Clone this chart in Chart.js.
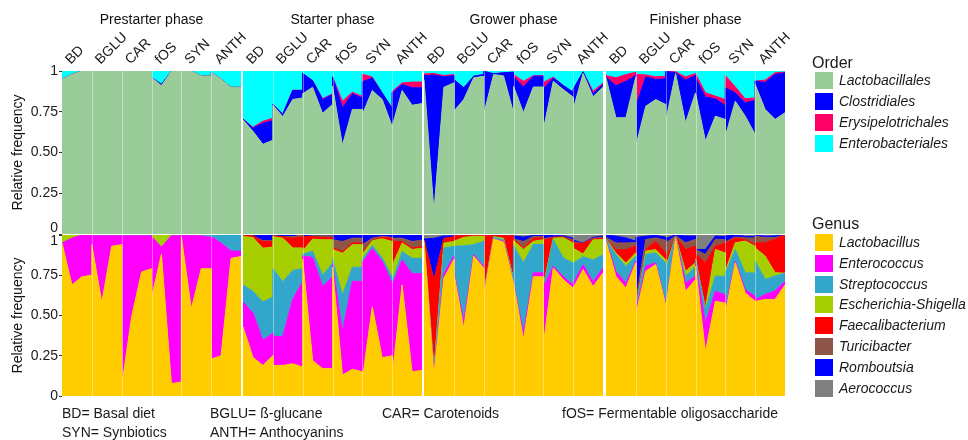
<!DOCTYPE html>
<html>
<head>
<meta charset="utf-8">
<script src="https://cdn.jsdelivr.net/npm/chart.js@4"></script>
<style>
body{margin:0;background:#fff;font-family:"Liberation Sans",Arial,sans-serif;color:#1a1a1a}
#wrap{position:relative;width:968px;height:440px;overflow:hidden}
.box{position:absolute;left:0;width:968px}
.note{position:absolute;font-size:14px;line-height:16px;white-space:nowrap}
.lg-title{position:absolute;left:812px;font-size:16px;line-height:18px}
.lg-item{position:absolute;left:815px;height:17px;line-height:17px;font-size:14px;font-style:italic;white-space:nowrap}
.lg-item span{display:inline-block;width:18px;height:17px;vertical-align:top;margin-right:6px}
</style>
</head>
<body>
<div id="wrap"></div>
<script>
// categories
const phases = ["Prestarter phase", "Starter phase", "Grower phase", "Finisher phase"];
const treatments = ["BD", "BGLU", "CAR", "fOS", "SYN", "ANTH"];
const perGroup = 4; // samples per treatment

const orderNames = ["Lactobacillales", "Clostridiales", "Erysipelotrichales", "Enterobacteriales"];
const orderColors = ["#99CC99", "#0000FF", "#FF0066", "#00FFFF"];
const genusNames = ["Lactobacillus", "Enterococcus", "Streptococcus", "Escherichia-Shigella",
  "Faecalibacterium", "Turicibacter", "Romboutsia", "Aerococcus"];
const genusColors = ["#FFCC00", "#FF00FF", "#33A6CC", "#A6CE00", "#FF0000", "#8C5548", "#0000FF", "#808080"];

// ---- Order (top row), 4 phases x 6 treatments x 4 samples ----
const lactobacillales = [
  0.95,0.98,1,1, 1,1,1,1, 1,1,1,1, 0.96,0.91,1,1, 1,1,0.97,0.97, 0.99,0.95,0.90,0.90,
  0.70,0.63,0.55,0.575, 0.79,0.72,0.825,0.835, 0.86,0.90,0.74,0.795, 0.907,0.545,0.764,0.764, 0.733,0.88,0.825,0.66, 0.66,0.88,0.79,0.80,
  0.948,0.14,0.90,0.927, 0.753,0.825,0.958,0.968, 0.733,0.978,0.97,0.744, 0.907,0.744,0.902,0.902, 0.64,0.937,0.886,0.84, 0.764,0.985,0.842,0.902,
  0.958,0.713,0.713,0.964, 0.54,0.784,0.825,0.795, 0.692,0.985,0.682,0.866, 0.866,0.57,0.723,0.703, 0.60,0.815,0.723,0.61, 0.917,0.764,0.703,0.744
];
const clostridiales = [
  0,0,0,0, 0,0,0,0, 0,0,0,0, 0,0.008,0,0, 0,0,0,0, 0,0,0,0,
  0.005,0.02,0.13,0.12, 0.005,0.015,0.055,0.045, 0.125,0.04,0.085,0.06, 0.057,0.23,0.096,0.07, 0.2,0.078,0.04,0.11, 0.205,0.037,0.107,0.097,
  0.024,0.835,0.064,0.045, 0.195,0.072,0.01,0.01, 0.265,0.005,0.019,0.249, 0.057,0.158,0.066,0.066, 0.25,0.02,0.025,0.03, 0.123,0.01,0.02,0.015,
  0.004,0.197,0.224,0.008, 0.245,0.18,0.123,0.157, 0.305,0.005,0.262,0.106, 0.092,0.271,0.106,0.085, 0.297,0.051,0.082,0.21, 0.021,0.166,0.276,0.245
];
const erysipelotrichales = [
  0,0,0,0, 0,0,0,0, 0,0,0,0, 0,0,0,0, 0,0,0,0, 0,0,0,0,
  0,0.005,0.012,0.015, 0,0,0.002,0.002, 0,0,0.005,0.005, 0,0.04,0.01,0.01, 0.047,0.005,0,0, 0.01,0.01,0.035,0.035,
  0.01,0.01,0.008,0.006, 0,0,0,0, 0,0,0,0, 0.014,0.035,0.003,0.003, 0.04,0.005,0,0, 0,0,0.014,0.01,
  0.01,0.048,0.041,0.02, 0.194,0.012,0.016,0.016, 0,0.005,0.02,0.012, 0.026,0.025,0.017,0.037, 0.075,0.037,0.024,0.015, 0,0.014,0.01,0.004
];
const enterobacteriales = [
  0.05,0.02,0,0, 0,0,0,0, 0,0,0,0, 0.04,0.082,0,0, 0,0,0.03,0.03, 0.01,0.05,0.10,0.10,
  0.295,0.345,0.308,0.29, 0.205,0.265,0.118,0.118, 0.015,0.06,0.17,0.14, 0.036,0.185,0.13,0.156, 0.02,0.037,0.135,0.23, 0.125,0.073,0.068,0.068,
  0.018,0.015,0.028,0.022, 0.052,0.103,0.032,0.022, 0.002,0.017,0.011,0.007, 0.022,0.063,0.029,0.029, 0.07,0.038,0.089,0.13, 0.113,0.005,0.124,0.073,
  0.028,0.042,0.022,0.008, 0.021,0.024,0.036,0.032, 0.003,0.005,0.036,0.016, 0.016,0.134,0.154,0.175, 0.028,0.097,0.171,0.165, 0.062,0.056,0.011,0.007
];

// ---- Genus (bottom row) ----
const lactobacillus = [
  0.95,0.69,0.74,0.75, 0.94,0.58,0.93,0.94, 0.06,0.49,0.77,0.79, 0.61,0.88,0.077,0.087, 0.99,0.54,0.79,0.79, 0.23,0.25,0.855,0.866,
  0.43,0.24,0.19,0.25, 0.19,0.19,0.20,0.18, 0.85,0.22,0.17,0.17, 0.80,0.13,0.166,0.15, 0.10,0.555,0.237,0.25, 0.12,0.69,0.15,0.16,
  0.96,0.13,0.733,0.847, 0.764,0.42,0.868,0.795, 0.62,0.975,0.955,0.70, 0.70,0.35,0.74,0.74, 0.318,0.795,0.723,0.67, 0.67,0.785,0.68,0.764,
  0.96,0.743,0.67,0.827, 0.505,0.775,0.816,0.567, 0.55,0.98,0.65,0.723, 0.806,0.276,0.588,0.577, 0.515,0.827,0.64,0.588, 0.588,0.60,0.60,0.69
];
const enterococcus = [
  0,0.29,0.26,0.25, 0.055,0.415,0.065,0.055, 0.935,0.505,0.225,0.205, 0.38,0.045,0.918,0.908, 0.01,0.455,0.205,0.195, 0.76,0.70,0.045,0.034,
  0.155,0.275,0.157,0.14, 0.18,0.18,0.40,0.53, 0.02,0.64,0.51,0.57, 0.02,0.27,0.548,0.56, 0.73,0.36,0.60,0.45, 0.57,0.155,0.61,0.60,
  0,0.01,0.03,0.02, 0.01,0.043,0.01,0.01, 0.005,0,0.005,0.005, 0.005,0.04,0.025,0.025, 0.36,0.01,0.02,0.02, 0.03,0.03,0.03,0.03,
  0.005,0.031,0.031,0.01, 0.02,0.031,0.01,0.01, 0.01,0.005,0.052,0.021, 0.01,0.177,0.062,0.052, 0.021,0.01,0.021,0.031, 0.01,0.031,0.052,0.021
];
const streptococcus = [
  0,0,0,0, 0,0,0,0, 0,0,0,0, 0,0,0,0, 0,0,0,0.01, 0.01,0.05,0.10,0.10,
  0.105,0.135,0.238,0.224, 0.42,0.34,0.18,0.08, 0.01,0.04,0.07,0.085, 0.03,0.227,0.086,0.09, 0.02,0.02,0.02,0.04, 0.02,0.052,0.095,0.095,
  0,0.02,0.156,0.062, 0.156,0.47,0.062,0.156, 0.01,0.01,0.01,0.02, 0.23,0.437,0.176,0.176, 0,0.166,0.115,0.135, 0.125,0.05,0.135,0.083,
  0.005,0.104,0.104,0.031, 0.02,0.073,0.062,0.25, 0.22,0.005,0.042,0.062, 0.031,0.083,0.094,0.114, 0.228,0.073,0.104,0.145, 0.239,0.093,0.093,0.052
];
const escherichia = [
  0.05,0.02,0,0, 0.005,0.005,0.005,0.005, 0.005,0.005,0.005,0.005, 0.005,0.075,0.005,0.005, 0,0.005,0.005,0.005, 0,0,0,0,
  0.30,0.335,0.333,0.311, 0.20,0.27,0.14,0.13, 0.02,0.075,0.22,0.145, 0.06,0.26,0.14,0.14, 0.03,0.03,0.12,0.22, 0.10,0.053,0.055,0.063,
  0,0.01,0.031,0.031, 0.031,0.052,0.052,0.031, 0.005,0.005,0.01,0.005, 0.03,0.083,0.02,0.03, 0.01,0.01,0.125,0.125, 0.093,0.017,0.125,0.094,
  0.005,0.01,0.021,0.021, 0,0.021,0.021,0.02, 0.02,0,0.031,0.021, 0.005,0.01,0.166,0.145, 0.01,0.042,0.197,0.166, 0.083,0.145,0.021,0
];
const faecalibacterium = [
  0,0,0,0, 0,0,0,0, 0,0,0,0, 0,0,0,0, 0,0,0,0, 0,0,0,0,
  0.005,0.01,0.042,0.035, 0.005,0.01,0.06,0.07, 0.09,0.015,0.015,0.015, 0.01,0.01,0.01,0.01, 0.01,0.005,0.01,0.02, 0.15,0.01,0.01,0.01,
  0.01,0.55,0.029,0.027, 0.035,0.01,0.004,0.004, 0.355,0.005,0.015,0.265, 0.01,0.01,0.02,0.01, 0.28,0.005,0.005,0.01, 0.03,0.066,0.005,0.01,
  0,0.021,0.083,0.042, 0,0.01,0.052,0.04, 0.05,0,0.135,0.104, 0.031,0.281,0.021,0.062, 0.177,0.031,0.01,0.01, 0.031,0.083,0.208,0.237
];
const turicibacter = [
  0,0,0,0, 0,0,0,0, 0,0,0,0, 0,0,0,0, 0,0,0,0, 0,0,0,0,
  0,0,0.005,0.005, 0,0,0.01,0.01, 0,0.005,0.01,0.01, 0.05,0.063,0.03,0.03, 0.05,0.01,0.005,0.005, 0.02,0.02,0.04,0.04,
  0,0,0,0, 0,0,0,0, 0,0,0,0, 0,0.04,0.01,0.01, 0.01,0,0,0.01, 0.01,0,0.005,0.005,
  0.01,0.042,0.042,0.021, 0.04,0.062,0.021,0.08, 0.1,0.005,0.042,0.042, 0.027,0.052,0.042,0.02, 0.005,0.005,0.01,0.042, 0.042,0.031,0.01,0
];
const romboutsia = [
  0,0,0,0, 0,0,0,0, 0,0,0,0, 0.005,0,0,0, 0,0,0,0, 0,0,0,0,
  0.005,0.005,0.035,0.03, 0.005,0.01,0.01,0.005, 0.01,0.005,0.005,0.005, 0.03,0.04,0.02,0.02, 0.06,0.02,0.008,0.015, 0.02,0.02,0.04,0.032,
  0.005,0.26,0.015,0.008, 0.004,0.005,0.004,0.004, 0.005,0.005,0.005,0.005, 0.02,0.027,0.006,0.006, 0.02,0.01,0.007,0.01, 0.01,0.002,0.005,0.008,
  0.015,0.042,0.031,0.01, 0.40,0.021,0.015,0.02, 0.03,0.005,0.042,0.021, 0,0.031,0.021,0.02, 0.04,0.01,0.01,0.01, 0.005,0.01,0.01,0
];
const aerococcus = [
  0,0,0,0, 0,0,0,0, 0,0,0,0, 0,0,0,0, 0,0,0,0, 0,0,0,0,
  0,0,0,0, 0,0,0,0, 0,0,0,0, 0,0,0,0, 0,0,0,0, 0,0,0,0,
  0.025,0.02,0.006,0.005, 0,0,0,0, 0,0,0,0, 0.005,0.013,0.003,0.003, 0.002,0.004,0.005,0.02, 0.032,0.05,0.015,0.006,
  0,0.007,0.018,0.038, 0.015,0.007,0.003,0.013, 0.02,0,0.006,0.006, 0.09,0.09,0.006,0.01, 0.004,0.002,0.008,0.008, 0.002,0.007,0.006,0
];

const orderData = [lactobacillales, clostridiales, erysipelotrichales, enterobacteriales];
const genusData = [lactobacillus, enterococcus, streptococcus, escherichia, faecalibacterium, turicibacter, romboutsia, aerococcus];

// layout
const panelLeft = [62, 243, 424, 606];
const panelWidth = 179;
const GAP = 0.001; // keeps treatment blocks apart so each one starts fresh

Chart.defaults.font.family = "'Liberation Sans', Arial, sans-serif";
Chart.defaults.color = "#1a1a1a";

const perPhase = treatments.length * perGroup;
function xOf(i) {
  const g = Math.floor(i / perGroup);
  return g * (perGroup - 1) + (i % perGroup) + g * GAP;
}
const xMax = xOf(perPhase - 1);

function fmt(v) { return v === 0 ? "0" : v === 1 ? "1" : v.toFixed(2); }

// faint separators between treatments
const groupLines = {
  id: "groupLines",
  afterDatasetsDraw(chart) {
    const { ctx, chartArea: a, scales: { x } } = chart;
    ctx.save();
    ctx.strokeStyle = "rgba(255,255,255,0.4)";
    ctx.lineWidth = 1;
    for (let g = 1; g < treatments.length; g++) {
      const px = Math.round(x.getPixelForValue(g * (perGroup - 1) + (g - 0.5) * GAP)) + 0.5;
      ctx.beginPath(); ctx.moveTo(px, a.top); ctx.lineTo(px, a.bottom); ctx.stroke();
    }
    ctx.restore();
  }
};

const wrap = document.getElementById("wrap");

function makeChart(p, isTop) {
  const series = isTop ? orderData : genusData;
  const names = isTop ? orderNames : genusNames;
  const colors = isTop ? orderColors : genusColors;
  const first = p === 0;

  const div = document.createElement("div");
  div.className = "box";
  div.style.top = (isTop ? 0 : 220) + "px";
  div.style.height = (isTop ? 250 : 190) + "px";
  const cv = document.createElement("canvas");
  div.appendChild(cv);
  wrap.appendChild(div);

  const datasets = series.map((arr, k) => ({
    label: names[k],
    data: arr.slice(p * perPhase, (p + 1) * perPhase).map((v, i) => ({ x: xOf(i), y: v })),
    backgroundColor: colors[k],
    borderColor: colors[k],
    borderWidth: 1,
    pointRadius: 0,
    tension: 0,
    fill: k === 0 ? "origin" : "-1"
  }));

  const xScale = {
    type: "linear", position: "top", min: 0, max: xMax, display: isTop,
    grid: { display: false }, border: { display: false },
    afterBuildTicks: s => { s.ticks = treatments.map((t, g) => ({ value: g * (perGroup - 1) + (perGroup - 1) / 2 + g * GAP })); },
    ticks: { autoSkip: false, minRotation: 45, maxRotation: 45, padding: -5, labelOffset: 3,
      font: { size: 14 }, color: "#1a1a1a", callback: (v, i) => treatments[i] }
  };
  if (isTop) xScale.afterFit = s => { s.height = 42.2; };

  const yScale = {
    stacked: true, min: 0, max: 1, display: first, position: "left",
    grid: { drawOnChartArea: false, drawTicks: true, tickLength: 3, color: "#333" },
    border: { display: false },
    title: { display: true, text: "Relative frequency", color: "#111",
      font: { size: 14 }, padding: { top: 10, bottom: 0 } },
    ticks: { stepSize: 0.25, autoSkip: false, padding: 1, color: "#1a1a1a",
      font: { size: 14, lineHeight: 0.9 },
      callback: v => {
        if (isTop && v === 0) return ["0", ""];
        if (!isTop && v === 1) return ["", "1"];
        return fmt(v);
      } }
  };
  if (first) yScale.afterFit = s => { s.width = 62; };

  new Chart(cv, {
    type: "line",
    data: { datasets },
    options: {
      responsive: true,
      maintainAspectRatio: false,
      animation: false,
      events: [],
      layout: { padding: {
        left: first ? 0 : panelLeft[p],
        right: 968 - panelLeft[p] - panelWidth,
        top: isTop ? 0 : 15,
        bottom: isTop ? 16 : 14
      } },
      plugins: {
        legend: { display: false },
        tooltip: { enabled: false },
        title: { display: isTop, text: phases[p], fullSize: false, color: "#111",
          font: { size: 14, weight: "normal" }, padding: { top: 12, bottom: 0 } }
      },
      scales: { x: xScale, y: yScale }
    },
    plugins: [groupLines]
  });
}

for (let p = 0; p < phases.length; p++) {
  makeChart(p, true);
  makeChart(p, false);
}

// legends
function legend(title, names, colors, titleTop, itemTop, step) {
  const t = document.createElement("div");
  t.className = "lg-title"; t.style.top = titleTop + "px"; t.textContent = title;
  wrap.appendChild(t);
  names.forEach((n, i) => {
    const d = document.createElement("div");
    d.className = "lg-item"; d.style.top = (itemTop + i * step) + "px";
    const sw = document.createElement("span"); sw.style.background = colors[i];
    d.appendChild(sw); d.appendChild(document.createTextNode(n));
    wrap.appendChild(d);
  });
}
legend("Order", orderNames, orderColors, 54, 72, 21);
legend("Genus", genusNames, genusColors, 215, 234, 20.8);

// abbreviations under the plot
const notes = [
  ["BD= Basal diet", 62, 405], ["SYN= Synbiotics", 62, 424],
  ["BGLU= \u00DF-glucane", 210, 405], ["ANTH= Anthocyanins", 210, 424],
  ["CAR= Carotenoids", 382, 405], ["fOS= Fermentable oligosaccharide", 562, 405]
];
notes.forEach(([txt, x, y]) => {
  const d = document.createElement("div");
  d.className = "note"; d.style.left = x + "px"; d.style.top = y + "px"; d.textContent = txt;
  wrap.appendChild(d);
});
</script>
</body>
</html>
